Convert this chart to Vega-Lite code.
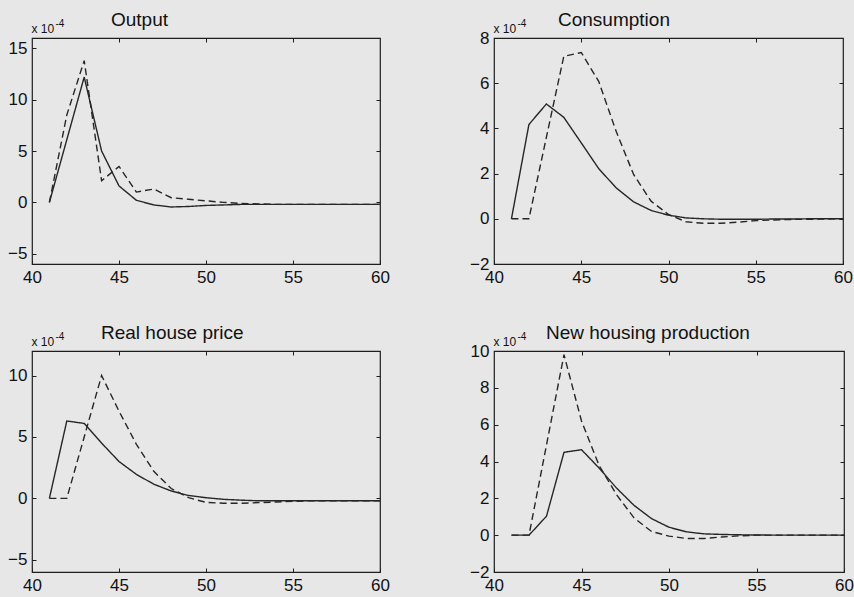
{
  "$schema": "https://vega.github.io/schema/vega-lite/v6.json",
  "background": "#e7e7e7",
  "padding": {"left": 7, "top": 10, "right": 3, "bottom": 5},
  "data": {"values": [
    {"p":"Output","c":"solid","t":41,"v":0},{"p":"Output","c":"solid","t":42,"v":6.1},{"p":"Output","c":"solid","t":43,"v":12.2},{"p":"Output","c":"solid","t":44,"v":5.0},{"p":"Output","c":"solid","t":45,"v":1.6},{"p":"Output","c":"solid","t":46,"v":0.2},{"p":"Output","c":"solid","t":47,"v":-0.25},{"p":"Output","c":"solid","t":48,"v":-0.45},{"p":"Output","c":"solid","t":49,"v":-0.4},{"p":"Output","c":"solid","t":50,"v":-0.3},{"p":"Output","c":"solid","t":51,"v":-0.25},{"p":"Output","c":"solid","t":52,"v":-0.2},{"p":"Output","c":"solid","t":53,"v":-0.2},{"p":"Output","c":"solid","t":54,"v":-0.2},{"p":"Output","c":"solid","t":55,"v":-0.2},{"p":"Output","c":"solid","t":56,"v":-0.2},{"p":"Output","c":"solid","t":57,"v":-0.2},{"p":"Output","c":"solid","t":58,"v":-0.2},{"p":"Output","c":"solid","t":59,"v":-0.2},{"p":"Output","c":"solid","t":60,"v":-0.2},
    {"p":"Output","c":"dashed","t":41,"v":0},{"p":"Output","c":"dashed","t":42,"v":8.5},{"p":"Output","c":"dashed","t":43,"v":13.8},{"p":"Output","c":"dashed","t":44,"v":2.1},{"p":"Output","c":"dashed","t":45,"v":3.5},{"p":"Output","c":"dashed","t":46,"v":1.0},{"p":"Output","c":"dashed","t":47,"v":1.3},{"p":"Output","c":"dashed","t":48,"v":0.45},{"p":"Output","c":"dashed","t":49,"v":0.3},{"p":"Output","c":"dashed","t":50,"v":0.15},{"p":"Output","c":"dashed","t":51,"v":0.0},{"p":"Output","c":"dashed","t":52,"v":-0.1},{"p":"Output","c":"dashed","t":53,"v":-0.15},{"p":"Output","c":"dashed","t":54,"v":-0.2},{"p":"Output","c":"dashed","t":55,"v":-0.2},{"p":"Output","c":"dashed","t":56,"v":-0.2},{"p":"Output","c":"dashed","t":57,"v":-0.2},{"p":"Output","c":"dashed","t":58,"v":-0.2},{"p":"Output","c":"dashed","t":59,"v":-0.2},{"p":"Output","c":"dashed","t":60,"v":-0.2},
    {"p":"Consumption","c":"solid","t":41,"v":0},{"p":"Consumption","c":"solid","t":42,"v":4.17},{"p":"Consumption","c":"solid","t":43,"v":5.08},{"p":"Consumption","c":"solid","t":44,"v":4.49},{"p":"Consumption","c":"solid","t":45,"v":3.36},{"p":"Consumption","c":"solid","t":46,"v":2.22},{"p":"Consumption","c":"solid","t":47,"v":1.37},{"p":"Consumption","c":"solid","t":48,"v":0.75},{"p":"Consumption","c":"solid","t":49,"v":0.37},{"p":"Consumption","c":"solid","t":50,"v":0.16},{"p":"Consumption","c":"solid","t":51,"v":0.04},{"p":"Consumption","c":"solid","t":52,"v":0.0},{"p":"Consumption","c":"solid","t":53,"v":-0.02},{"p":"Consumption","c":"solid","t":54,"v":-0.02},{"p":"Consumption","c":"solid","t":55,"v":-0.02},{"p":"Consumption","c":"solid","t":56,"v":-0.01},{"p":"Consumption","c":"solid","t":57,"v":-0.01},{"p":"Consumption","c":"solid","t":58,"v":0},{"p":"Consumption","c":"solid","t":59,"v":0},{"p":"Consumption","c":"solid","t":60,"v":0},
    {"p":"Consumption","c":"dashed","t":41,"v":0},{"p":"Consumption","c":"dashed","t":42,"v":0},{"p":"Consumption","c":"dashed","t":43,"v":3.6},{"p":"Consumption","c":"dashed","t":44,"v":7.19},{"p":"Consumption","c":"dashed","t":45,"v":7.36},{"p":"Consumption","c":"dashed","t":46,"v":6.08},{"p":"Consumption","c":"dashed","t":47,"v":3.87},{"p":"Consumption","c":"dashed","t":48,"v":1.96},{"p":"Consumption","c":"dashed","t":49,"v":0.78},{"p":"Consumption","c":"dashed","t":50,"v":0.19},{"p":"Consumption","c":"dashed","t":51,"v":-0.13},{"p":"Consumption","c":"dashed","t":52,"v":-0.2},{"p":"Consumption","c":"dashed","t":53,"v":-0.2},{"p":"Consumption","c":"dashed","t":54,"v":-0.15},{"p":"Consumption","c":"dashed","t":55,"v":-0.08},{"p":"Consumption","c":"dashed","t":56,"v":-0.05},{"p":"Consumption","c":"dashed","t":57,"v":-0.03},{"p":"Consumption","c":"dashed","t":58,"v":-0.02},{"p":"Consumption","c":"dashed","t":59,"v":-0.01},{"p":"Consumption","c":"dashed","t":60,"v":0},
    {"p":"Real house price","c":"solid","t":41,"v":0},{"p":"Real house price","c":"solid","t":42,"v":6.3},{"p":"Real house price","c":"solid","t":43,"v":6.1},{"p":"Real house price","c":"solid","t":44,"v":4.5},{"p":"Real house price","c":"solid","t":45,"v":3.0},{"p":"Real house price","c":"solid","t":46,"v":1.95},{"p":"Real house price","c":"solid","t":47,"v":1.15},{"p":"Real house price","c":"solid","t":48,"v":0.6},{"p":"Real house price","c":"solid","t":49,"v":0.23},{"p":"Real house price","c":"solid","t":50,"v":0.05},{"p":"Real house price","c":"solid","t":51,"v":-0.08},{"p":"Real house price","c":"solid","t":52,"v":-0.15},{"p":"Real house price","c":"solid","t":53,"v":-0.2},{"p":"Real house price","c":"solid","t":54,"v":-0.2},{"p":"Real house price","c":"solid","t":55,"v":-0.2},{"p":"Real house price","c":"solid","t":56,"v":-0.2},{"p":"Real house price","c":"solid","t":57,"v":-0.2},{"p":"Real house price","c":"solid","t":58,"v":-0.2},{"p":"Real house price","c":"solid","t":59,"v":-0.2},{"p":"Real house price","c":"solid","t":60,"v":-0.2},
    {"p":"Real house price","c":"dashed","t":41,"v":0},{"p":"Real house price","c":"dashed","t":42,"v":0},{"p":"Real house price","c":"dashed","t":43,"v":5.0},{"p":"Real house price","c":"dashed","t":44,"v":10.0},{"p":"Real house price","c":"dashed","t":45,"v":7.1},{"p":"Real house price","c":"dashed","t":46,"v":4.4},{"p":"Real house price","c":"dashed","t":47,"v":2.2},{"p":"Real house price","c":"dashed","t":48,"v":0.8},{"p":"Real house price","c":"dashed","t":49,"v":0.05},{"p":"Real house price","c":"dashed","t":50,"v":-0.33},{"p":"Real house price","c":"dashed","t":51,"v":-0.4},{"p":"Real house price","c":"dashed","t":52,"v":-0.4},{"p":"Real house price","c":"dashed","t":53,"v":-0.35},{"p":"Real house price","c":"dashed","t":54,"v":-0.3},{"p":"Real house price","c":"dashed","t":55,"v":-0.25},{"p":"Real house price","c":"dashed","t":56,"v":-0.2},{"p":"Real house price","c":"dashed","t":57,"v":-0.2},{"p":"Real house price","c":"dashed","t":58,"v":-0.2},{"p":"Real house price","c":"dashed","t":59,"v":-0.2},{"p":"Real house price","c":"dashed","t":60,"v":-0.2},
    {"p":"New housing production","c":"solid","t":41,"v":0},{"p":"New housing production","c":"solid","t":42,"v":0},{"p":"New housing production","c":"solid","t":43,"v":1.03},{"p":"New housing production","c":"solid","t":44,"v":4.5},{"p":"New housing production","c":"solid","t":45,"v":4.64},{"p":"New housing production","c":"solid","t":46,"v":3.65},{"p":"New housing production","c":"solid","t":47,"v":2.56},{"p":"New housing production","c":"solid","t":48,"v":1.62},{"p":"New housing production","c":"solid","t":49,"v":0.9},{"p":"New housing production","c":"solid","t":50,"v":0.43},{"p":"New housing production","c":"solid","t":51,"v":0.18},{"p":"New housing production","c":"solid","t":52,"v":0.07},{"p":"New housing production","c":"solid","t":53,"v":0.04},{"p":"New housing production","c":"solid","t":54,"v":0.02},{"p":"New housing production","c":"solid","t":55,"v":0.01},{"p":"New housing production","c":"solid","t":56,"v":0},{"p":"New housing production","c":"solid","t":57,"v":0},{"p":"New housing production","c":"solid","t":58,"v":0},{"p":"New housing production","c":"solid","t":59,"v":0},{"p":"New housing production","c":"solid","t":60,"v":0},
    {"p":"New housing production","c":"dashed","t":41,"v":0},{"p":"New housing production","c":"dashed","t":42,"v":0},{"p":"New housing production","c":"dashed","t":43,"v":4.9},{"p":"New housing production","c":"dashed","t":44,"v":9.8},{"p":"New housing production","c":"dashed","t":45,"v":6.2},{"p":"New housing production","c":"dashed","t":46,"v":3.8},{"p":"New housing production","c":"dashed","t":47,"v":2.2},{"p":"New housing production","c":"dashed","t":48,"v":0.94},{"p":"New housing production","c":"dashed","t":49,"v":0.2},{"p":"New housing production","c":"dashed","t":50,"v":-0.05},{"p":"New housing production","c":"dashed","t":51,"v":-0.18},{"p":"New housing production","c":"dashed","t":52,"v":-0.18},{"p":"New housing production","c":"dashed","t":53,"v":-0.1},{"p":"New housing production","c":"dashed","t":54,"v":-0.04},{"p":"New housing production","c":"dashed","t":55,"v":0},{"p":"New housing production","c":"dashed","t":56,"v":0},{"p":"New housing production","c":"dashed","t":57,"v":0},{"p":"New housing production","c":"dashed","t":58,"v":0},{"p":"New housing production","c":"dashed","t":59,"v":0},{"p":"New housing production","c":"dashed","t":60,"v":0}
  ]},
  "spacing": 37,
  "vconcat": [
    {
      "spacing": 78,
      "hconcat": [
        {
          "width": 348, "height": 226,
          "title": {"text": "Output", "dx": 79, "offset": -12},
          "transform": [{"filter": "datum.p === 'Output'"}],
          "resolve": {"axis": {"x": "independent", "y": "independent"}},
          "layer": [
            {"mark": {"type": "line", "color": "#262626", "strokeWidth": 1.4},
             "encoding": {
               "x": {"field": "t", "type": "quantitative", "scale": {"domain": [40, 60]}, "axis": {"orient": "bottom", "values": [40,45,50,55,60], "title": null}},
               "y": {"field": "v", "type": "quantitative", "scale": {"domain": [-5, 15]}, "axis": {"orient": "left", "values": [-5,0,5,10,15], "title": "x 10"}},
               "strokeDash": {"field": "c", "type": "nominal", "scale": {"domain": ["solid", "dashed"], "range": [[1, 0], [7, 4]]}, "legend": null}
             }},
            {"mark": {"type": "line", "opacity": 0},
             "encoding": {
               "x": {"field": "t", "type": "quantitative", "axis": {"orient": "top", "values": [45,50,55], "labels": false, "title": "-4"}},
               "y": {"field": "v", "type": "quantitative", "axis": {"orient": "right", "values": [0,5,10], "labels": false, "title": null}},
               "detail": {"field": "c"}
             }}
          ]
        },
        {
          "width": 349, "height": 226,
          "title": {"text": "Consumption", "dx": 64, "offset": -12},
          "transform": [{"filter": "datum.p === 'Consumption'"}],
          "resolve": {"axis": {"x": "independent", "y": "independent"}},
          "layer": [
            {"mark": {"type": "line", "color": "#262626", "strokeWidth": 1.4},
             "encoding": {
               "x": {"field": "t", "type": "quantitative", "scale": {"domain": [40, 60]}, "axis": {"orient": "bottom", "values": [40,45,50,55,60], "title": null}},
               "y": {"field": "v", "type": "quantitative", "scale": {"domain": [-2, 8]}, "axis": {"orient": "left", "values": [-2,0,2,4,6,8], "title": "x 10"}},
               "strokeDash": {"field": "c", "type": "nominal", "scale": {"domain": ["solid", "dashed"], "range": [[1, 0], [7, 4]]}, "legend": null}
             }},
            {"mark": {"type": "line", "opacity": 0},
             "encoding": {
               "x": {"field": "t", "type": "quantitative", "axis": {"orient": "top", "values": [45,50,55], "labels": false, "title": "-4"}},
               "y": {"field": "v", "type": "quantitative", "axis": {"orient": "right", "values": [0,2,4,6], "labels": false, "title": null}},
               "detail": {"field": "c"}
             }}
          ]
        }
      ]
    },
    {
      "spacing": 78,
      "hconcat": [
        {
          "width": 348, "height": 221,
          "title": {"text": "Real house price", "dx": 69, "offset": -12},
          "transform": [{"filter": "datum.p === 'Real house price'"}],
          "resolve": {"axis": {"x": "independent", "y": "independent"}},
          "layer": [
            {"mark": {"type": "line", "color": "#262626", "strokeWidth": 1.4},
             "encoding": {
               "x": {"field": "t", "type": "quantitative", "scale": {"domain": [40, 60]}, "axis": {"orient": "bottom", "values": [40,45,50,55,60], "title": null}},
               "y": {"field": "v", "type": "quantitative", "scale": {"domain": [-5, 12]}, "axis": {"orient": "left", "values": [-5,0,5,10], "title": "x 10"}},
               "strokeDash": {"field": "c", "type": "nominal", "scale": {"domain": ["solid", "dashed"], "range": [[1, 0], [7, 4]]}, "legend": null}
             }},
            {"mark": {"type": "line", "opacity": 0},
             "encoding": {
               "x": {"field": "t", "type": "quantitative", "axis": {"orient": "top", "values": [45,50,55], "labels": false, "title": "-4"}},
               "y": {"field": "v", "type": "quantitative", "axis": {"orient": "right", "values": [0,5,10], "labels": false, "title": null}},
               "detail": {"field": "c"}
             }}
          ]
        },
        {
          "width": 350, "height": 221,
          "title": {"text": "New housing production", "dx": 52, "offset": -12},
          "transform": [{"filter": "datum.p === 'New housing production'"}],
          "resolve": {"axis": {"x": "independent", "y": "independent"}},
          "layer": [
            {"mark": {"type": "line", "color": "#262626", "strokeWidth": 1.4},
             "encoding": {
               "x": {"field": "t", "type": "quantitative", "scale": {"domain": [40, 60]}, "axis": {"orient": "bottom", "values": [40,45,50,55,60], "title": null}},
               "y": {"field": "v", "type": "quantitative", "scale": {"domain": [-2, 10]}, "axis": {"orient": "left", "values": [-2,0,2,4,6,8,10], "title": "x 10"}},
               "strokeDash": {"field": "c", "type": "nominal", "scale": {"domain": ["solid", "dashed"], "range": [[1, 0], [7, 4]]}, "legend": null}
             }},
            {"mark": {"type": "line", "opacity": 0},
             "encoding": {
               "x": {"field": "t", "type": "quantitative", "axis": {"orient": "top", "values": [45,50,55], "labels": false, "title": "-4"}},
               "y": {"field": "v", "type": "quantitative", "axis": {"orient": "right", "values": [0,2,4,6,8], "labels": false, "title": null}},
               "detail": {"field": "c"}
             }}
          ]
        }
      ]
    }
  ],
  "config": {
    "view": {"stroke": "#1e1e1e", "strokeWidth": 1.2},
    "axis": {"domain": false, "grid": false, "tickSize": 4, "offset": -4, "tickColor": "#1e1e1e", "tickWidth": 1,
             "labelFont": "Liberation Sans", "labelFontSize": 17, "labelColor": "#111111", "labelFlush": false, "labelOverlap": false,
             "titleFont": "Liberation Sans", "titleFontSize": 12, "titleFontWeight": "normal", "titleColor": "#111111"},
    "axisLeft": {"labelPadding": 5, "minExtent": 27, "maxExtent": 27, "titleAngle": 0, "titleAlign": "left", "titleBaseline": "alphabetic", "titleX": -5, "titleY": -6},
    "axisBottom": {"labelPadding": 5, "minExtent": 24, "maxExtent": 24},
    "axisRight": {"minExtent": 0, "maxExtent": 0},
    "axisTop": {"minExtent": 0, "maxExtent": 0, "titleFontSize": 10, "titleAngle": 0, "titleAlign": "left", "titleBaseline": "alphabetic", "titleX": 23, "titleY": -16},
    "title": {"font": "Liberation Sans", "fontSize": 19, "fontWeight": "normal", "color": "#111111", "anchor": "start", "baseline": "alphabetic", "frame": "group"}
  }
}
